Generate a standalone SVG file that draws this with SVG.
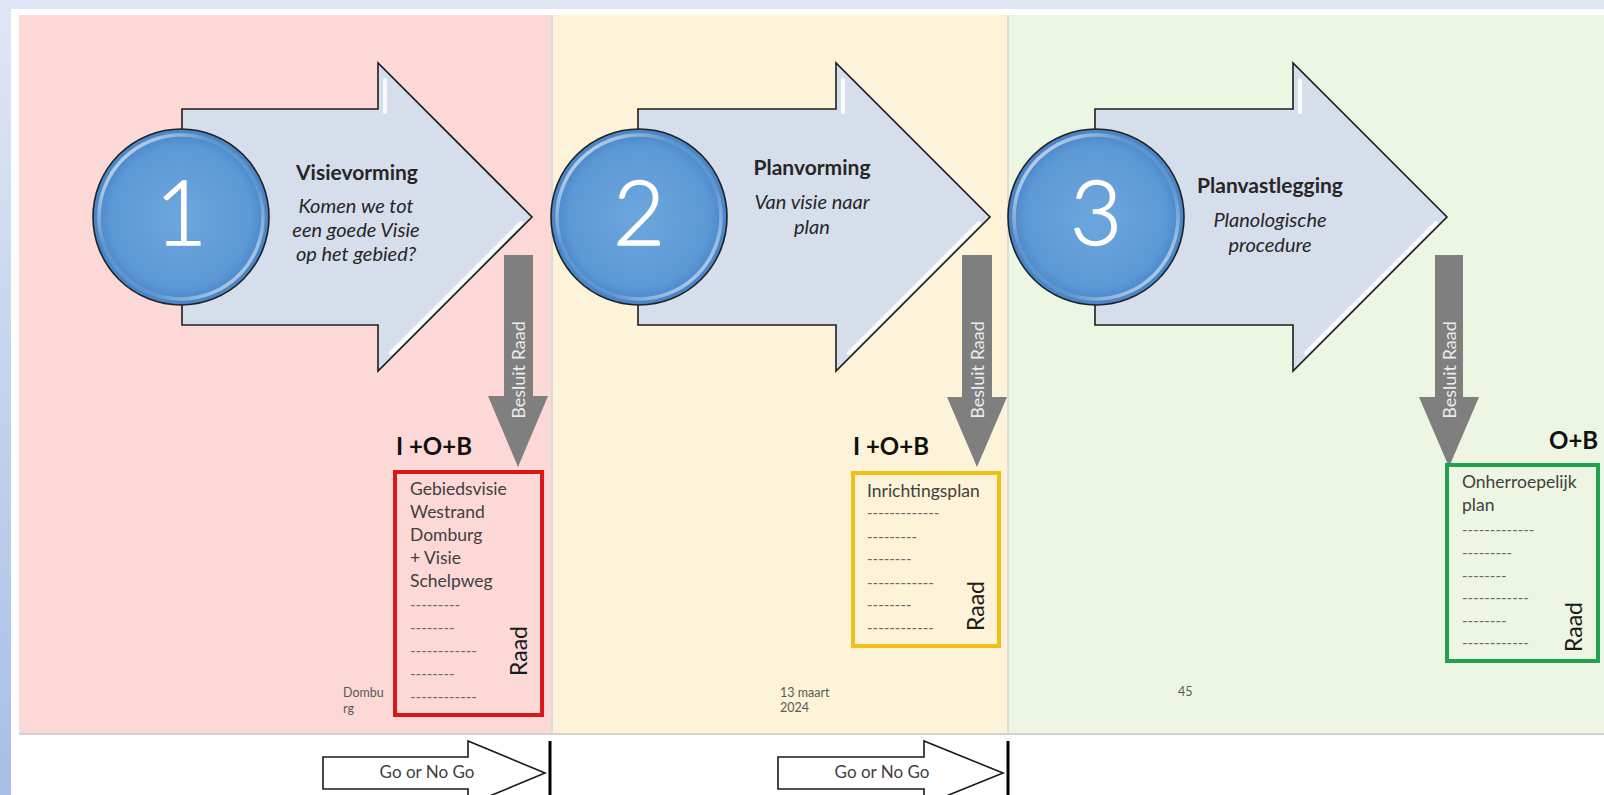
<svg xmlns="http://www.w3.org/2000/svg" width="1604" height="795" viewBox="0 0 1604 795">
<defs>
<style>
.arrow{fill:#d6deec;stroke:#1c1c1c;stroke-width:1.6;stroke-linejoin:miter}
.hl{stroke:#ffffff;stroke-width:4;stroke-linecap:round;opacity:0.85;fill:none}
.ball{fill:url(#ballGrad);stroke:#222;stroke-width:1.6}
.rim{fill:none;stroke:url(#rimGrad);stroke-width:3.5}
.num{font-family:Lato,"Liberation Sans",sans-serif;font-weight:300;font-size:90px;fill:#ffffff;stroke:#ffffff;stroke-width:1.3;text-anchor:middle}
.title{font-family:Lato,"Liberation Sans",sans-serif;font-weight:bold;font-size:21px;fill:#262626;text-anchor:middle}
.sub{font-family:Lato,"Liberation Sans",sans-serif;font-style:italic;font-size:20px;fill:#262626;text-anchor:middle}
.besluit{fill:#7f7f7f}
.btxt{font-family:Lato,"Liberation Sans",sans-serif;font-size:18px;fill:#ececec;text-anchor:middle}
.code{font-family:Lato,"Liberation Sans",sans-serif;font-weight:bold;font-size:24px;fill:#111}
.boxt{font-family:Lato,"Liberation Sans",sans-serif;font-size:17.5px;fill:#404040}
.dash{font-family:Lato,"Liberation Sans",sans-serif;font-size:15px;fill:#6a6a6a}
.raad{font-family:Lato,"Liberation Sans",sans-serif;font-size:23px;fill:#1a1a1a;text-anchor:middle}
.foot{font-family:Lato,"Liberation Sans",sans-serif;font-size:12.5px;fill:#595959}
.go{fill:#ffffff;stroke:#1a1a1a;stroke-width:1.6}
.gotxt{font-family:Lato,"Liberation Sans",sans-serif;font-size:17px;fill:#404040;text-anchor:middle}
.bar{stroke:#000;stroke-width:3}
</style>
<linearGradient id="bgGrad" x1="0" y1="0" x2="0" y2="1">
<stop offset="0" stop-color="#dfe7f5"/>
<stop offset="1" stop-color="#a7bfe6"/>
</linearGradient>
<radialGradient id="ballGrad" cx="50%" cy="50%" r="50%">
<stop offset="0" stop-color="#6da7de"/>
<stop offset="0.8" stop-color="#5c98d5"/>
<stop offset="1" stop-color="#4683c6"/>
</radialGradient>
<linearGradient id="rimGrad" x1="0" y1="0" x2="1" y2="1">
<stop offset="0" stop-color="#ffffff" stop-opacity="0.9"/>
<stop offset="0.35" stop-color="#ffffff" stop-opacity="0.1"/>
<stop offset="0.65" stop-color="#ffffff" stop-opacity="0.1"/>
<stop offset="1" stop-color="#ffffff" stop-opacity="0.8"/>
</linearGradient>
</defs>

<!-- background -->
<rect x="0" y="0" width="1604" height="795" fill="url(#bgGrad)"/>
<rect x="0" y="0" width="1604" height="9" fill="#dee6f5"/>
<rect x="11" y="9" width="1593" height="786" fill="#ffffff"/>
<rect x="19" y="15" width="532" height="719" fill="#fcd9d6"/>
<rect x="553" y="15" width="454" height="719" fill="#fdf3d8"/>
<rect x="1009" y="15" width="595" height="719" fill="#edf5e3"/>
<rect x="551" y="15" width="2" height="719" fill="#dcdad6"/>
<rect x="1007" y="15" width="2" height="719" fill="#dcdcd8"/>
<rect x="19" y="733" width="1585" height="2" fill="#d2d2d2"/>

<!-- stage 1 -->
<g id="stage1">
<polygon class="arrow" points="182,109 378,109 378,63 532,217 378,371 378,325 182,325"/>
<line class="hl" x1="521" y1="223" x2="391" y2="353"/>
<line class="hl" x1="385" y1="80" x2="385" y2="112" opacity="0.6"/>
<circle class="ball" cx="181" cy="217" r="88"/>
<circle class="rim" cx="181" cy="217" r="82"/>
<text class="num" x="181" y="245">1</text>
<text class="title" x="357" y="180">Visievorming</text>
<text class="sub" x="356" y="213">Komen we tot</text>
<text class="sub" x="356" y="237">een goede Visie</text>
<text class="sub" x="356" y="261">op het gebied?</text>
</g>

<!-- stage 2 -->
<g id="stage2">
<polygon class="arrow" points="638,109 836,109 836,63 990,217 836,371 836,325 638,325"/>
<line class="hl" x1="979" y1="223" x2="849" y2="353"/>
<line class="hl" x1="843" y1="80" x2="843" y2="112" opacity="0.6"/>
<circle class="ball" cx="639" cy="217" r="88"/>
<circle class="rim" cx="639" cy="217" r="82"/>
<text class="num" x="639" y="245">2</text>
<text class="title" x="812" y="175">Planvorming</text>
<text class="sub" x="812" y="209">Van visie naar</text>
<text class="sub" x="812" y="234">plan</text>
</g>

<!-- stage 3 -->
<g id="stage3">
<polygon class="arrow" points="1095,109 1293,109 1293,63 1447,217 1293,371 1293,325 1095,325"/>
<line class="hl" x1="1436" y1="223" x2="1306" y2="353"/>
<line class="hl" x1="1300" y1="80" x2="1300" y2="112" opacity="0.6"/>
<circle class="ball" cx="1096" cy="217" r="88"/>
<circle class="rim" cx="1096" cy="217" r="82"/>
<text class="num" x="1096" y="245">3</text>
<text class="title" x="1270" y="193">Planvastlegging</text>
<text class="sub" x="1270" y="227">Planologische</text>
<text class="sub" x="1270" y="252">procedure</text>
</g>

<!-- decision connectors -->
<g id="connectors">
<path class="besluit" d="M504,255 H533 V396 H548 L518,467 L488,396 H504 Z"/>
<text class="btxt" transform="translate(525,370) rotate(-90)">Besluit Raad</text>
<path class="besluit" d="M962,255 H992 V397 H1007 L977,467 L947,397 H962 Z"/>
<text class="btxt" transform="translate(984,370) rotate(-90)">Besluit Raad</text>
<path class="besluit" d="M1435,255 H1463 V397 H1479 L1449,467 L1419,397 H1435 Z"/>
<text class="btxt" transform="translate(1456,370) rotate(-90)">Besluit Raad</text>
</g>

<!-- box 1 -->
<g id="box1">
<text class="code" x="396" y="455">I +O+B</text>
<rect x="395" y="472" width="147" height="243" fill="none" stroke="#dc1717" stroke-width="4"/>
<text class="boxt" x="410" y="495">Gebiedsvisie</text>
<text class="boxt" x="410" y="518">Westrand</text>
<text class="boxt" x="410" y="541">Domburg</text>
<text class="boxt" x="410" y="564">+ Visie</text>
<text class="boxt" x="410" y="587">Schelpweg</text>
<text class="dash" x="410" y="610">---------</text>
<text class="dash" x="410" y="633">--------</text>
<text class="dash" x="410" y="656">------------</text>
<text class="dash" x="410" y="679">--------</text>
<text class="dash" x="410" y="702">------------</text>
<text class="raad" transform="translate(527,651) rotate(-90)">Raad</text>
</g>

<!-- box 2 -->
<g id="box2">
<text class="code" x="853" y="455">I +O+B</text>
<rect x="853" y="473" width="146" height="173" fill="none" stroke="#f2c014" stroke-width="4"/>
<text class="boxt" x="867" y="497">Inrichtingsplan</text>
<text class="dash" x="867" y="518">-------------</text>
<text class="dash" x="867" y="542">---------</text>
<text class="dash" x="867" y="564">--------</text>
<text class="dash" x="867" y="588">------------</text>
<text class="dash" x="867" y="610">--------</text>
<text class="dash" x="867" y="633">------------</text>
<text class="raad" transform="translate(984,606) rotate(-90)">Raad</text>
</g>

<!-- box 3 -->
<g id="box3">
<text class="code" x="1549" y="449">O+B</text>
<rect x="1447" y="465" width="151" height="196" fill="none" stroke="#22a24f" stroke-width="4"/>
<text class="boxt" x="1462" y="488">Onherroepelijk</text>
<text class="boxt" x="1462" y="511">plan</text>
<text class="dash" x="1462" y="535">-------------</text>
<text class="dash" x="1462" y="558">---------</text>
<text class="dash" x="1462" y="581">--------</text>
<text class="dash" x="1462" y="603">------------</text>
<text class="dash" x="1462" y="626">--------</text>
<text class="dash" x="1462" y="648">------------</text>
<text class="raad" transform="translate(1582,627) rotate(-90)">Raad</text>
</g>

<!-- footer -->
<g id="footer">
<text class="foot" x="343" y="697">Dombu</text>
<text class="foot" x="343" y="713">rg</text>
<text class="foot" x="780" y="697">13 maart</text>
<text class="foot" x="780" y="712">2024</text>
<text class="foot" x="1178" y="696">45</text>
</g>

<!-- go / no go -->
<g id="go1">
<path class="go" d="M323,757 H468 V741 L545,773 L468,805 V789 H323 Z"/>
<line class="bar" x1="550" y1="741" x2="550" y2="795"/>
<text class="gotxt" x="427" y="778">Go or No Go</text>
</g>
<g id="go2">
<path class="go" d="M778,757 H924 V741 L1003,773 L924,805 V789 H778 Z"/>
<line class="bar" x1="1008" y1="741" x2="1008" y2="795"/>
<text class="gotxt" x="882" y="778">Go or No Go</text>
</g>
</svg>
